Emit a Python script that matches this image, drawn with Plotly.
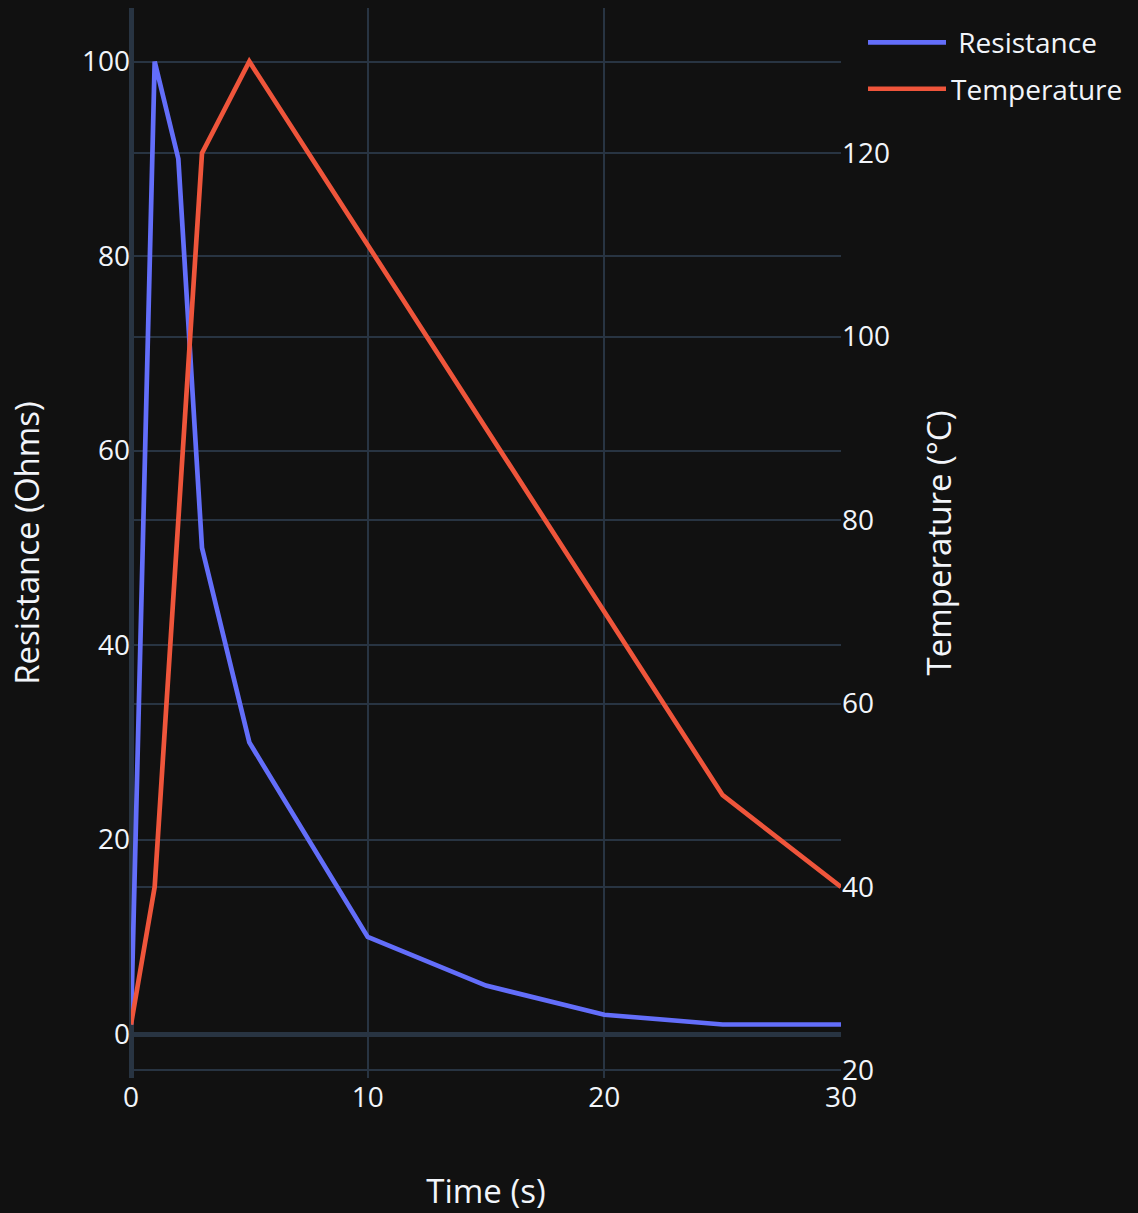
import plotly.graph_objects as go

time_s = [0, 1, 2, 3, 5, 10, 15, 20, 25, 30]
resistance = [1, 100, 90, 50, 30, 10, 5, 2, 1, 1]
temperature = [25, 40, 80, 120, 130, 110, 90, 70, 50, 40]

S = 2.35
TICK = 28
TITLE = 33

fig = go.Figure()
fig.add_trace(go.Scatter(x=time_s, y=resistance, mode="lines", name=" Resistance",
                         legendgroup="r", line=dict(color="#636efa", width=2 * S)))
fig.add_trace(go.Scatter(x=time_s, y=temperature, mode="lines", name="Temperature",
                         legendgroup="t", line=dict(color="#EF553B", width=2 * S), yaxis="y2"))

fig.update_layout(
    template="plotly_dark",
    width=1138, height=1213,
    margin=dict(l=131, r=297, t=8, b=135),
    font=dict(family="Open Sans, verdana, arial, sans-serif", size=TICK, color="#f2f5fa"),
    xaxis=dict(title=dict(text="Time (s)", font=dict(size=TITLE), standoff=67),
               dtick=10, gridwidth=S, zerolinewidth=2 * S, automargin=False),
    yaxis=dict(title=dict(text="Resistance (Ohms)", font=dict(size=TITLE), standoff=32),
               dtick=20, gridwidth=S, zerolinewidth=2 * S, automargin=False),
    yaxis2=dict(title=dict(text="Temperature (°C)", font=dict(size=TITLE), standoff=38),
                overlaying="y", side="right", dtick=20, gridwidth=S, zerolinewidth=2 * S,
                gridcolor="#283442", automargin=False),
    legend=dict(font=dict(size=TICK), itemwidth=78, x=1.031, y=0.991, tracegroupgap=7),
)

fig.write_html("out.html", config={"displayModeBar": False},
               post_script="document.body.style.margin='0';")
